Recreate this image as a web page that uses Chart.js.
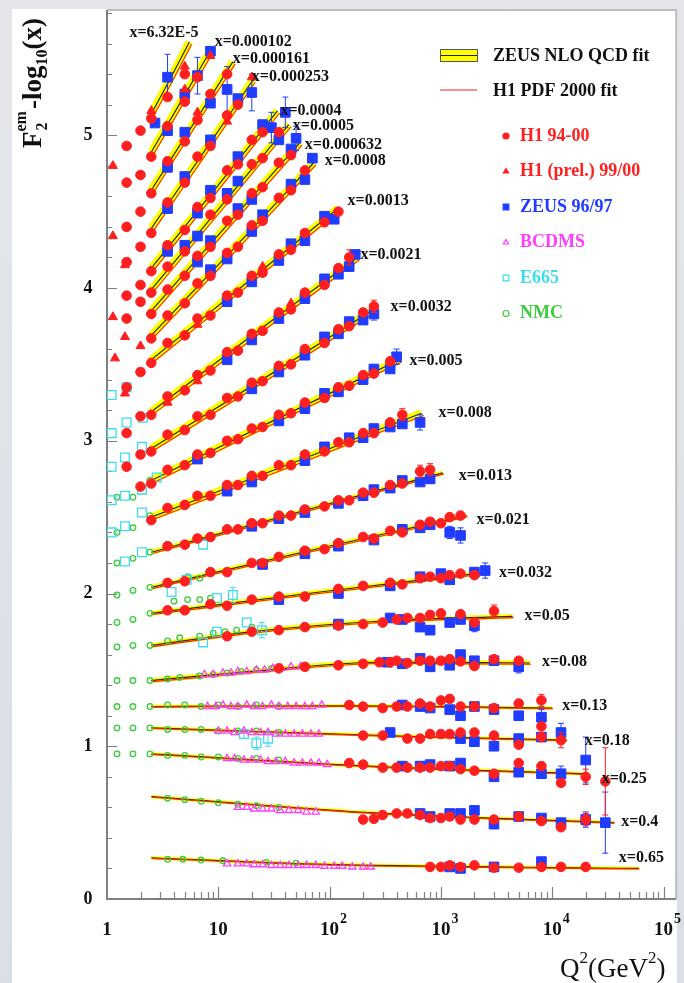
<!DOCTYPE html>
<html>
<head>
<meta charset="utf-8">
<script src="https://cdn.jsdelivr.net/npm/chart.js@4.4.1/dist/chart.umd.min.js"></script>
<style>
  html, body { margin: 0; padding: 0; }
  body { width: 684px; height: 983px; background: linear-gradient(180deg, #e4e6ea 0%, #dadfe6 100%); position: relative; overflow: hidden; }
  #panel { position: absolute; left: 12px; top: 9px; width: 665px; height: 974px; background: #fff; }
  #chart { position: absolute; left: 0; top: 0; }
</style>
</head>
<body>
<div id="panel"></div>
<canvas id="chart" width="684" height="983"></canvas>
<script>
// x bins, one fit curve per bin: [Q2, F2 - log10(x)]
const binLabels = ['x=6.32E-5', 'x=0.000102', 'x=0.000161', 'x=0.000253', 'x=0.0004', 'x=0.0005',
  'x=0.000632', 'x=0.0008', 'x=0.0013', 'x=0.0021', 'x=0.0032', 'x=0.005', 'x=0.008', 'x=0.013',
  'x=0.021', 'x=0.032', 'x=0.05', 'x=0.08', 'x=0.13', 'x=0.18', 'x=0.25', 'x=0.4', 'x=0.65'];

const fitCurves = [
  [[2.5, 5.14], [3.7, 5.37], [5.5, 5.61]],
  [[2.5, 4.89], [4.7, 5.23], [8.9, 5.58]],
  [[2.5, 4.64], [5.8, 5.06], [13.5, 5.48]],
  [[2.5, 4.39], [7.1, 4.87], [20.4, 5.36]],
  [[2.5, 4.13], [9.2, 4.64], [34, 5.16]],
  [[2.5, 3.99], [10.4, 4.53], [43, 5.07]],
  [[2.5, 3.85], [11.6, 4.40], [54, 4.95]],
  [[2.5, 3.69], [13.4, 4.25], [72, 4.82]],
  [[2.5, 3.53], [17, 4.02], [118, 4.52]],
  [[2.5, 3.19], [21, 3.70], [178, 4.20]],
  [[2.5, 2.95], [26, 3.41], [264, 3.87]],
  [[2.5, 2.74], [33, 3.14], [424, 3.53]],
  [[2.5, 2.50], [41, 2.84], [670, 3.18]],
  [[2.5, 2.27], [51, 2.53], [1040, 2.79]],
  [[2.5, 2.04], [65, 2.28], [1700, 2.51]],
  [[2.5, 1.87], [82, 2.01], [2700, 2.14]],
  [[2.5, 1.66], [20, 1.75], [300, 1.82], [4400, 1.85]],
  [[2.5, 1.43], [20, 1.49], [300, 1.55], [6300, 1.545]],
  [[2.5, 1.26], [150, 1.265], [10000, 1.25]],
  [[2.5, 1.12], [500, 1.065], [13500, 1.04]],
  [[2.5, 0.95], [300, 0.865], [20000, 0.82]],
  [[2.5, 0.67], [300, 0.56], [36000, 0.50]],
  [[2.5, 0.27], [60, 0.23], [60000, 0.20]]
];

// data points: [Q2, F2 - log10(x), error (optional)]
const h1Points = [
  [1.5, 4.93], [2, 5.03], [2.5, 5.11], [3.5, 5.25], [5, 5.40],
  [1.5, 4.69], [2, 4.74], [2.5, 4.86], [3.5, 5.06], [5, 5.22], [6.5, 5.38],
  [1.5, 4.40], [2, 4.50], [2.5, 4.62], [3.5, 4.83], [5, 4.96], [6.5, 5.10], [8.5, 5.27], [12, 5.40],
  [1.5, 4.17], [2, 4.27], [2.5, 4.36], [3.5, 4.56], [5, 4.69], [6.5, 4.86], [8.5, 4.93], [12, 5.13], [15, 5.20],
  [1.5, 3.95], [2, 4.02], [2.5, 4.11], [3.5, 4.28], [5, 4.38], [6.5, 4.53], [8.5, 4.59], [12, 4.77], [15, 4.81], [20, 4.97], [25, 5.02],
  [1.5, 3.80], [2, 3.91], [2.5, 3.97], [3.5, 4.14], [5, 4.24], [8.5, 4.48], [12, 4.58], [20, 4.81], [25, 4.85], [35, 5.02],
  [2.5, 3.83], [3.5, 3.99], [5, 4.08], [6.5, 4.21], [8.5, 4.27], [12, 4.44], [15, 4.48], [20, 4.62], [25, 4.66], [35, 4.82], [45, 4.87],
  [2.5, 3.67], [3.5, 3.82], [5, 3.90], [6.5, 4.03], [8.5, 4.08], [12, 4.23], [15, 4.27], [20, 4.41], [25, 4.44], [35, 4.59], [45, 4.64], [60, 4.77],
  [1.5, 3.35], [2, 3.45], [2.5, 3.51], [3.5, 3.64], [5, 3.69], [6.5, 3.80], [8.5, 3.82], [12, 3.95], [15, 3.97], [20, 4.08], [25, 4.10], [35, 4.22], [45, 4.25], [60, 4.36], [90, 4.43], [120, 4.50],
  [1.5, 3.05], [2, 3.16], [2.5, 3.17], [3.5, 3.29], [5, 3.33], [6.5, 3.43], [8.5, 3.46], [12, 3.58], [15, 3.59], [20, 3.70], [25, 3.72], [35, 3.84], [45, 3.86], [60, 3.97], [90, 4.02], [120, 4.13], [150, 4.20, 0.05],
  [1.5, 2.83], [2, 2.91], [2.5, 2.93], [3.5, 3.04], [5, 3.07], [6.5, 3.16], [8.5, 3.17], [12, 3.28], [15, 3.29], [20, 3.38], [25, 3.39], [35, 3.49], [45, 3.50], [60, 3.60], [90, 3.64], [120, 3.73], [150, 3.75], [200, 3.84], [250, 3.88, 0.04],
  [2, 2.70], [2.5, 2.72], [3.5, 2.81], [5, 2.84], [6.5, 2.91], [8.5, 2.92], [12, 3.00], [15, 3.01], [20, 3.08], [25, 3.09], [35, 3.17], [45, 3.18], [60, 3.25], [90, 3.28], [120, 3.35], [150, 3.36], [200, 3.43], [250, 3.44], [350, 3.52],
  [2.5, 2.48], [3.5, 2.56], [5, 2.58], [6.5, 2.64], [8.5, 2.64], [12, 2.71], [15, 2.71], [20, 2.77], [25, 2.77], [35, 2.84], [45, 2.84], [60, 2.91], [90, 2.93], [120, 2.99], [150, 2.99], [200, 3.05], [250, 3.05], [350, 3.12], [450, 3.17, 0.04],
  [3.5, 2.31], [5, 2.32], [6.5, 2.36], [8.5, 2.37], [12, 2.42], [15, 2.42], [20, 2.46], [25, 2.46], [35, 2.51], [45, 2.51], [60, 2.55], [90, 2.57], [120, 2.61], [150, 2.61], [200, 2.66], [250, 2.66], [350, 2.71], [450, 2.72], [650, 2.80, 0.04], [800, 2.81, 0.04],
  [3.5, 2.07], [5, 2.08], [8.5, 2.14], [12, 2.14], [20, 2.20], [25, 2.20], [35, 2.24], [60, 2.28], [90, 2.29], [120, 2.33], [200, 2.37], [250, 2.36], [350, 2.41], [450, 2.40], [650, 2.45], [800, 2.47], [1000, 2.46], [1200, 2.50], [1500, 2.51],
  [3.5, 1.89], [5, 1.89], [8.5, 1.93], [12, 1.92], [20, 1.96], [35, 1.98], [60, 1.98], [120, 2.03], [200, 2.05], [350, 2.07], [450, 2.06], [650, 2.10], [800, 2.11], [1000, 2.10], [1200, 2.12], [1500, 2.13], [2000, 2.12],
  [12, 1.72], [20, 1.75], [35, 1.76], [60, 1.78], [120, 1.79], [200, 1.80], [300, 1.81], [400, 1.83], [500, 1.84], [650, 1.84], [800, 1.86], [1000, 1.87], [1500, 1.865], [2000, 1.81], [3000, 1.885, 0.04],
  [35, 1.51], [60, 1.52], [120, 1.53], [200, 1.54], [280, 1.55], [350, 1.55], [400, 1.56], [500, 1.545], [650, 1.56], [800, 1.56], [1000, 1.56], [1200, 1.57], [1500, 1.555], [2000, 1.525], [3000, 1.57], [5000, 1.56],
  [150, 1.27], [200, 1.26], [300, 1.25], [400, 1.26], [500, 1.26], [650, 1.28], [800, 1.26], [1000, 1.30], [1200, 1.31], [1500, 1.26], [2000, 1.26], [3000, 1.25], [5000, 1.28], [8000, 1.30, 0.04], [8000, 1.13],
  [200, 1.07], [300, 1.07], [500, 1.05], [650, 1.05], [800, 1.08], [1000, 1.08], [1200, 1.08], [1500, 1.09], [2000, 1.09], [3000, 1.07], [5000, 1.01], [8000, 1.06], [12000, 1.04, 0.05],
  [150, 0.89], [200, 0.88], [300, 0.86], [400, 0.86], [500, 0.86], [650, 0.86], [800, 0.86], [1000, 0.87], [1200, 0.87], [1500, 0.85], [2000, 0.84], [3000, 0.82], [5000, 0.89], [8000, 0.87], [12000, 0.76], [20000, 0.80, 0.05], [30000, 0.77, 0.22],
  [200, 0.52], [250, 0.525], [300, 0.55], [400, 0.56], [500, 0.56], [650, 0.55], [800, 0.53], [1000, 0.53], [1200, 0.54], [1500, 0.52], [2000, 0.52], [3000, 0.52], [5000, 0.54], [8000, 0.51], [12000, 0.47], [20000, 0.52, 0.04],
  [800, 0.21], [1000, 0.21], [1200, 0.22], [1500, 0.21], [2000, 0.22], [3000, 0.205], [5000, 0.205], [8000, 0.21], [12000, 0.21], [20000, 0.21]
];

const h1PrelPoints = [
  [2.5, 5.16], [5, 5.45], [5, 5.30], [8.5, 5.52], [6.5, 5.15], [12, 5.09], [20, 5.38],
  [1.13, 4.80], [1.13, 4.34], [1.45, 4.15], [1.13, 3.81], [1.45, 3.68], [1.18, 3.54], [2, 3.62], [1.45, 3.31],
  [6.5, 3.76], [25, 4.14], [3.5, 3.25], [6.5, 3.39], [45, 3.90]
];

const zeusPoints = [
  [2.7, 5.08], [3.5, 5.38, 0.15],
  [3.5, 5.03], [5, 5.27], [6.5, 5.39, 0.12], [8.5, 5.55],
  [3.5, 4.79], [5, 5.02], [8.5, 5.21], [12, 5.30, 0.15],
  [3.5, 4.52], [5, 4.73], [8.5, 4.97], [15, 5.24], [20, 5.28, 0.12],
  [3.5, 4.24], [6.5, 4.49], [8.5, 4.64], [15, 4.86], [25, 5.07], [30, 5.05, 0.1],
  [5, 4.28], [6.5, 4.34], [12, 4.62], [15, 4.70], [35, 4.97], [40, 5.15, 0.1],
  [6.5, 4.17], [8.5, 4.31], [15, 4.52], [20, 4.58], [45, 4.91], [50, 4.98, 0.08],
  [8.5, 4.12], [12, 4.19], [20, 4.37], [25, 4.48], [45, 4.68], [60, 4.71], [70, 4.85],
  [12, 3.91], [20, 4.04], [35, 4.18], [45, 4.29], [60, 4.31], [90, 4.47], [110, 4.45],
  [12, 3.53], [20, 3.66], [35, 3.80], [60, 3.93], [90, 4.06], [120, 4.09], [150, 4.14], [170, 4.22],
  [20, 3.34], [35, 3.45], [60, 3.56], [90, 3.68], [120, 3.70], [150, 3.78], [200, 3.79], [250, 3.83, 0.04],
  [6.5, 2.88], [35, 3.13], [60, 3.21], [90, 3.31], [120, 3.32], [200, 3.40], [250, 3.47], [350, 3.47], [400, 3.55, 0.05],
  [12, 2.67], [20, 2.73], [60, 2.87], [90, 2.96], [150, 3.02], [200, 3.02], [250, 3.08], [350, 3.09], [450, 3.11], [650, 3.12, 0.05],
  [20, 2.44], [35, 2.49], [60, 2.53], [120, 2.59], [200, 2.64], [250, 2.68], [350, 2.69], [450, 2.74], [650, 2.73], [800, 2.75],
  [25, 2.19], [60, 2.26], [120, 2.31], [250, 2.35], [450, 2.42], [650, 2.43], [800, 2.45], [1200, 2.40, 0.04], [1500, 2.38, 0.05],
  [35, 1.96], [120, 2.00], [350, 2.05], [650, 2.11], [1000, 2.13], [1200, 2.09], [2000, 2.14], [2500, 2.15, 0.05],
  [120, 1.80], [350, 1.84], [450, 1.83], [650, 1.78], [800, 1.76], [1200, 1.81], [1500, 1.83], [2000, 1.79, 0.04],
  [330, 1.55], [450, 1.54], [650, 1.575], [800, 1.52], [1200, 1.53], [1500, 1.60], [2000, 1.56], [3000, 1.56], [5000, 1.52, 0.04],
  [450, 1.27], [650, 1.26], [800, 1.25], [1200, 1.24], [1500, 1.20], [2000, 1.26], [3000, 1.24], [5000, 1.20], [8000, 1.19, 0.05],
  [350, 1.09], [1500, 1.05], [2000, 1.03], [3000, 1.00], [5000, 1.05], [8000, 1.06], [12000, 1.09, 0.06],
  [450, 0.87], [650, 0.87], [800, 0.88], [1200, 0.87], [1500, 0.89], [3000, 0.80], [5000, 0.83], [8000, 0.82], [12000, 0.82, 0.05], [20000, 0.91, 0.15],
  [650, 0.56], [800, 0.54], [1200, 0.56], [1500, 0.56], [2000, 0.58], [3000, 0.49], [5000, 0.54], [8000, 0.53], [12000, 0.50], [20000, 0.52, 0.05], [30000, 0.50, 0.2],
  [1200, 0.21], [1500, 0.20], [3000, 0.21], [8000, 0.245]
];

const bcdmsPoints = [
  [7.5, 1.47], [9, 1.47], [11, 1.48], [13, 1.48], [15, 1.49], [18, 1.49], [22, 1.50], [26, 1.50], [31, 1.51], [37, 1.51], [45, 1.52], [55, 1.52],
  [8, 1.26], [9.5, 1.26], [11, 1.27], [13, 1.26], [15, 1.26], [18, 1.27], [21, 1.26], [25, 1.26], [30, 1.27], [35, 1.26], [42, 1.26], [50, 1.26], [60, 1.26], [70, 1.26], [85, 1.27],
  [10, 1.10], [12, 1.10], [14, 1.09], [17, 1.10], [20, 1.09], [24, 1.09], [28, 1.09], [33, 1.08], [40, 1.08], [48, 1.08], [57, 1.08], [68, 1.08], [80, 1.08],
  [12, 0.92], [14, 0.92], [17, 0.91], [20, 0.91], [24, 0.91], [28, 0.90], [33, 0.90], [40, 0.90], [48, 0.89], [57, 0.89], [68, 0.89], [80, 0.89], [95, 0.88],
  [15, 0.60], [18, 0.60], [21, 0.59], [25, 0.59], [30, 0.59], [36, 0.58], [43, 0.58], [52, 0.58], [62, 0.57], [75, 0.57],
  [12, 0.23], [15, 0.23], [18, 0.23], [21, 0.225], [25, 0.225], [30, 0.22], [36, 0.22], [43, 0.22], [52, 0.22], [62, 0.22], [75, 0.22], [90, 0.215], [110, 0.215], [130, 0.215], [160, 0.21], [200, 0.21], [234, 0.21]
];

const e665Points = [
  [1.1, 3.30], [1.5, 3.35],
  [1.1, 3.05], [1.5, 3.12], [2.1, 3.15],
  [1.1, 2.83], [1.45, 2.89], [2.06, 2.96],
  [1.1, 2.61], [1.45, 2.64], [2.06, 2.68], [2.8, 2.76],
  [1.1, 2.40], [1.45, 2.44], [2.06, 2.53],
  [1.45, 2.21], [2.06, 2.27], [7.3, 2.32],
  [3.8, 2.01], [5.2, 2.09], [9.7, 1.97], [13.5, 1.99, 0.05],
  [7.3, 1.68], [9.7, 1.75], [18, 1.81], [24.6, 1.76, 0.05],
  [17, 1.08, 0.03], [22, 1.02, 0.04], [28, 1.05, 0.05]
];

const nmcPoints = [
  [1.23, 2.63], [1.71, 2.63], [2.43, 2.74],
  [1.23, 2.40], [1.71, 2.43], [2.43, 2.51],
  [1.23, 2.20], [1.71, 2.23], [2.43, 2.27],
  [1.23, 1.99], [1.71, 2.02], [2.43, 2.04], [5.3, 2.11], [6.8, 2.10],
  [1.23, 1.81], [1.71, 1.83], [2.43, 1.87], [4, 1.95], [5.3, 1.96], [6.8, 1.96], [8.5, 1.97],
  [1.23, 1.65], [1.71, 1.66], [2.43, 1.66], [3.5, 1.69], [4.5, 1.71], [6.8, 1.72], [9, 1.74], [11.5, 1.75], [14.6, 1.76], [20, 1.78],
  [1.23, 1.43], [1.71, 1.43], [2.43, 1.43], [3.5, 1.44], [4.5, 1.45], [6.8, 1.46], [9, 1.47], [12, 1.48], [16, 1.49], [22, 1.50], [30, 1.51],
  [1.23, 1.26], [1.71, 1.26], [2.43, 1.26], [3.5, 1.27], [5, 1.27], [7, 1.26], [10, 1.27], [15, 1.26], [22, 1.27], [35, 1.26],
  [1.23, 1.12], [1.71, 1.12], [2.43, 1.12], [3.5, 1.11], [5, 1.11], [7, 1.11], [10, 1.10], [15, 1.10], [22, 1.10], [35, 1.09],
  [1.23, 0.95], [1.71, 0.95], [2.43, 0.95], [3.5, 0.94], [5, 0.94], [7, 0.93], [10, 0.93], [15, 0.92], [22, 0.92], [35, 0.91],
  [3.5, 0.66], [5, 0.65], [7, 0.64], [10, 0.63], [15, 0.62], [22, 0.61], [35, 0.60],
  [3.5, 0.26], [4.8, 0.26], [7, 0.255], [11, 0.25], [27, 0.24], [50, 0.235]
];

const legendFits = ['ZEUS NLO QCD fit', 'H1 PDF 2000 fit'];
const legendMarkers = ['H1 94-00', 'H1 (prel.) 99/00', 'ZEUS 96/97', 'BCDMS', 'E665', 'NMC'];

const yTickLabels = ['0', '1', '2', '3', '4', '5'];
const xTickValues = [1, 10, 100, 1000, 10000, 100000];
const xTickExps = ['', '', '2', '3', '4', '5'];

// ---- styles ----
const RED = '#ff1f1f';
const BLUE = '#1f3cff';
const MAGENTA = '#ff3cff';
const CYAN = '#3fdcec';
const GREEN = '#3ccc3c';
const SERIF = '"Liberation Serif", "DejaVu Serif", serif';

function to_xy (list) {
  return list.map(p => ({ x: p[0], y: p[1] }));
}
function errs_of (list) {
  return list.map(p => p[2] || 0);
}

const datasets = [];

function add_points (list, style, color, radius, filled, order) {
  datasets.push({
    data: to_xy(list),
    errs: errs_of(list),
    barColor: color,
    pointStyle: style,
    pointRadius: radius,
    pointBorderWidth: filled ? 1 : 1.3,
    pointBackgroundColor: filled ? color : 'rgba(255,255,255,0)',
    pointBorderColor: color,
    showLine: false,
    order: order
  });
}

add_points(h1Points, 'circle', RED, 4.8, true, 1);
add_points(h1PrelPoints, 'triangle', RED, 5.2, true, 2);
add_points(zeusPoints, 'rect', BLUE, 6.8, true, 3);
add_points(bcdmsPoints, 'triangle', MAGENTA, 4.2, false, 4);
add_points(e665Points, 'rect', CYAN, 6.2, false, 5);
add_points(nmcPoints, 'circle', GREEN, 2.8, false, 6);

fitCurves.forEach((curve, i) => {
  const band = i < 13 ? 8 : (i < 18 ? 5 : 3.5);
  const shift = i < 13 ? 2.2 : (i < 18 ? 1.2 : 0.6);
  datasets.push({ type: 'line', data: to_xy(curve), borderColor: RED, borderWidth: 1.1,
    pointRadius: 0, cubicInterpolationMode: 'monotone', shift: shift, order: 20 });
  datasets.push({ type: 'line', data: to_xy(curve), borderColor: '#2a2a10', borderWidth: 1.2,
    pointRadius: 0, cubicInterpolationMode: 'monotone', order: 21 });
  datasets.push({ type: 'line', data: to_xy(curve), borderColor: '#ffff00', borderWidth: band,
    pointRadius: 0, cubicInterpolationMode: 'monotone', borderCapStyle: 'butt', order: 22 });
});

// label offsets from the end of each curve (px)
const labelOffsets = [[-60, -9], [2, -5], [0, -3], [-1, -3], [3, 0], [4, 1], [5, 2], [11, -2], [10, -8],
  [3, -3], [14, -1], [10, 1], [17, 0], [16, 3], [10, 4], [10, 1], [12, -1], [12, -1], [10, -2],
  [18, 1], [16, 5], [7, -1], [-20, -11]];

const draw_sup = (ctx, base, exp, x, y, baseFont, expFont) => {
  ctx.font = baseFont;
  const w = ctx.measureText(base).width;
  ctx.textAlign = 'center';
  ctx.fillText(base, x, y);
  if (exp) {
    ctx.font = expFont;
    ctx.textAlign = 'left';
    ctx.fillText(exp, x + w / 2 + 1, y - 12);
  }
};

const errorBars = {
  id: 'errorBars',
  beforeDatasetDraw (chart, args) {
    const ds = chart.data.datasets[args.index];
    const ctx = chart.ctx;
    if (ds.shift) {
      ctx.save();
      ctx.translate(ds.shift, ds.shift);
    }
    if (!ds.errs) return;
    const x = chart.scales.x;
    const y = chart.scales.y;
    ctx.save();
    ctx.strokeStyle = ds.barColor;
    ctx.lineWidth = 1;
    ds.data.forEach((p, i) => {
      const e = ds.errs[i];
      if (!e) return;
      const px = x.getPixelForValue(p.x);
      const top = y.getPixelForValue(p.y + e);
      const bot = y.getPixelForValue(p.y - e);
      ctx.beginPath();
      ctx.moveTo(px, top); ctx.lineTo(px, bot);
      ctx.moveTo(px - 3, top); ctx.lineTo(px + 3, top);
      ctx.moveTo(px - 3, bot); ctx.lineTo(px + 3, bot);
      ctx.stroke();
    });
    ctx.restore();
  },
  afterDatasetDraw (chart, args) {
    const ds = chart.data.datasets[args.index];
    if (ds.shift) chart.ctx.restore();
  }
};

const frame = {
  id: 'frame',
  beforeDatasetsDraw (chart) {
    const ctx = chart.ctx;
    const a = chart.chartArea;
    const x = chart.scales.x;
    const y = chart.scales.y;
    ctx.save();
    ctx.strokeStyle = '#bdbdbd';
    ctx.lineWidth = 2;
    ctx.beginPath();
    ctx.moveTo(a.left, a.top); ctx.lineTo(a.right, a.top); ctx.lineTo(a.right, a.bottom);
    ctx.stroke();
    ctx.strokeStyle = '#808080';
    ctx.beginPath();
    ctx.moveTo(a.left, a.top); ctx.lineTo(a.left, a.bottom); ctx.lineTo(a.right, a.bottom);
    ctx.stroke();

    // y ticks every 0.2
    ctx.lineWidth = 1.2;
    ctx.beginPath();
    for (let k = 1; k <= 29; k++) {
      const py = Math.round(y.getPixelForValue(k * 0.2)) + 0.5;
      const len = k % 5 === 0 ? 10 : 5;
      ctx.moveTo(a.left, py); ctx.lineTo(a.left + len, py);
    }
    // x ticks, log decades
    for (let d = 0; d < 5; d++) {
      for (let m = 2; m <= 10; m++) {
        const px = Math.round(x.getPixelForValue(m * Math.pow(10, d))) + 0.5;
        const len = m === 10 ? 12 : 7;
        ctx.moveTo(px, a.bottom); ctx.lineTo(px, a.bottom - len);
      }
    }
    ctx.stroke();

    // tick labels
    ctx.fillStyle = '#111';
    ctx.textBaseline = 'middle';
    ctx.textAlign = 'center';
    ctx.font = 'bold 18px ' + SERIF;
    yTickLabels.forEach((t, i) => ctx.fillText(t, 88, y.getPixelForValue(i)));
    ctx.textBaseline = 'alphabetic';
    xTickValues.forEach((v, i) => {
      draw_sup(ctx, i === 0 ? '1' : '10', xTickExps[i], x.getPixelForValue(v), 935,
        'bold 19px ' + SERIF, 'bold 14px ' + SERIF);
    });
    ctx.restore();
  },
  afterDraw (chart) {
    const ctx = chart.ctx;
    const x = chart.scales.x;
    const y = chart.scales.y;
    ctx.save();

    // bin labels at the end of each fit
    ctx.fillStyle = '#111';
    ctx.font = 'bold 16px ' + SERIF;
    ctx.textBaseline = 'middle';
    ctx.textAlign = 'left';
    fitCurves.forEach((curve, i) => {
      const end = curve[curve.length - 1];
      const off = labelOffsets[i];
      ctx.fillText(binLabels[i], x.getPixelForValue(end[0]) + off[0], y.getPixelForValue(end[1]) + off[1]);
    });

    // y axis title, rotated
    ctx.save();
    ctx.translate(41, 148);
    ctx.rotate(-Math.PI / 2);
    ctx.textAlign = 'left';
    ctx.textBaseline = 'alphabetic';
    let cx = 0;
    ctx.font = 'bold 27px ' + SERIF;
    ctx.fillText('F', cx, 0); cx += ctx.measureText('F').width;
    ctx.font = 'bold 16px ' + SERIF;
    ctx.fillText('2', cx + 1, 6);
    ctx.fillText('em', cx, -15);
    cx += ctx.measureText('em').width + 2;
    ctx.font = 'bold 27px ' + SERIF;
    ctx.fillText('-log', cx, 0); cx += ctx.measureText('-log').width;
    ctx.font = 'bold 16px ' + SERIF;
    ctx.fillText('10', cx, 6); cx += ctx.measureText('10').width;
    ctx.font = 'bold 27px ' + SERIF;
    ctx.fillText('(x)', cx, 0);
    ctx.restore();

    // x axis title
    ctx.textBaseline = 'alphabetic';
    ctx.textAlign = 'left';
    let tx = 560;
    ctx.font = '27px ' + SERIF;
    ctx.fillText('Q', tx, 977); tx += ctx.measureText('Q').width;
    ctx.font = '17px ' + SERIF;
    ctx.fillText('2', tx, 963); tx += ctx.measureText('2').width;
    ctx.font = '27px ' + SERIF;
    ctx.fillText('(GeV', tx, 977); tx += ctx.measureText('(GeV').width;
    ctx.font = '17px ' + SERIF;
    ctx.fillText('2', tx, 963); tx += ctx.measureText('2').width;
    ctx.font = '27px ' + SERIF;
    ctx.fillText(')', tx, 977);

    // legend: fits
    ctx.fillStyle = '#ffff00';
    ctx.fillRect(440, 49, 38, 13);
    ctx.strokeStyle = '#555';
    ctx.lineWidth = 1;
    ctx.strokeRect(440.5, 49.5, 37, 12);
    ctx.strokeStyle = '#222';
    ctx.beginPath(); ctx.moveTo(441, 55.5); ctx.lineTo(477, 55.5); ctx.stroke();
    ctx.strokeStyle = RED;
    ctx.lineWidth = 1.2;
    ctx.beginPath(); ctx.moveTo(440, 90); ctx.lineTo(477, 90); ctx.stroke();
    ctx.fillStyle = '#111';
    ctx.font = 'bold 18px ' + SERIF;
    ctx.textBaseline = 'middle';
    ctx.fillText(legendFits[0], 493, 56);
    ctx.fillText(legendFits[1], 493, 91);

    // legend: markers
    const markerColors = [RED, RED, BLUE, MAGENTA, CYAN, GREEN];
    const markerStyles = ['circle', 'triangle', 'rect', 'triangle', 'rect', 'circle'];
    const markerFilled = [true, true, true, false, false, false];
    legendMarkers.forEach((t, i) => {
      const my = 136 + i * 35.5;
      ctx.fillStyle = markerFilled[i] ? markerColors[i] : 'rgba(255,255,255,0)';
      ctx.strokeStyle = markerColors[i];
      ctx.lineWidth = 1.2;
      Chart.helpers.drawPoint(ctx, { pointStyle: markerStyles[i], radius: markerStyles[i] === 'rect' ? 4 : 3, borderWidth: 1.2 }, 506, my);
      ctx.fillStyle = markerColors[i];
      ctx.font = 'bold 18px ' + SERIF;
      ctx.fillText(t, 520, my);
    });
    ctx.restore();
  }
};

new Chart(document.getElementById('chart'), {
  type: 'scatter',
  data: { datasets: datasets },
  options: {
    responsive: false,
    animation: false,
    devicePixelRatio: 1,
    layout: { padding: { left: 107, right: 7, top: 10, bottom: 84 } },
    scales: {
      x: { type: 'logarithmic', min: 1, max: 130000, display: false },
      y: { type: 'linear', min: 0, max: 5.82, display: false }
    },
    plugins: { legend: { display: false }, tooltip: { enabled: false } }
  },
  plugins: [errorBars, frame]
});
</script>
</body>
</html>
